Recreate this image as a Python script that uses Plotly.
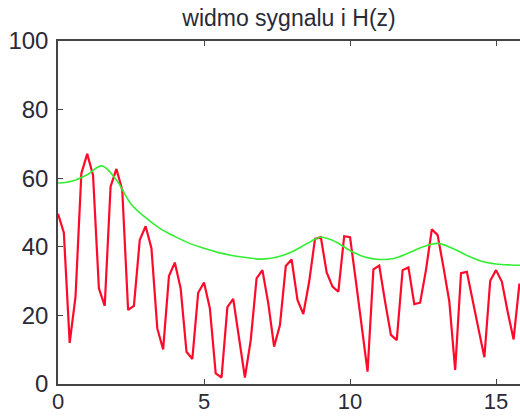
import plotly.graph_objects as go

# red: signal spectrum, sampled every 0.2
red_x = [round(i * 0.2, 1) for i in range(80)]
red_y = [49.6, 44.1, 12.0, 25.5, 61.4, 67.1, 60.9, 27.9, 22.8, 57.5,
         62.7, 56.6, 21.6, 22.8, 42.0, 46.0, 39.6, 16.2, 10.1, 31.5,
         35.4, 27.9, 9.4, 7.3, 26.6, 29.6, 22.1, 3.1, 1.9, 22.4,
         24.8, 13.8, 1.9, 12.8, 30.8, 33.2, 23.5, 10.9, 17.2, 34.4,
         36.3, 24.5, 20.4, 29.8, 42.3, 42.8, 32.5, 28.4, 26.9, 43.1,
         42.8, 30.0, 17.0, 3.6, 33.4, 34.5, 24.0, 14.3, 12.8, 33.2,
         34.0, 23.3, 23.7, 33.2, 45.1, 43.4, 34.0, 24.0, 4.1, 32.3,
         32.7, 24.0, 16.0, 7.8, 30.1, 33.2, 29.8, 21.0, 13.0, 29.3]

# green: filter response H(z)
green_x = [0, 0.5, 1.0, 1.5, 2.0, 2.5, 3.0, 3.5, 4.0, 4.5, 5.0, 5.5, 6.0, 6.5,
           7.0, 7.5, 8.0, 8.5, 9.0, 9.5, 10.0, 10.5, 11.0, 11.5, 12.0, 12.5,
           13.0, 13.5, 14.0, 14.5, 15.0, 15.5, 16.0]
green_y = [58.6, 59.2, 61.0, 63.6, 59.5, 52.5, 48.5, 45.3, 43.0, 41.0, 39.6,
           38.3, 37.4, 36.8, 36.4, 37.0, 38.5, 40.8, 42.8, 41.5, 38.9, 37.0,
           36.3, 36.6, 38.2, 40.0, 41.0, 39.6, 37.5, 35.8, 35.0, 34.7, 34.6]

x_ticks = [0, 5, 10, 15]
y_ticks = [0, 20, 40, 60, 80, 100]

fig = go.Figure()
fig.add_trace(go.Scatter(x=red_x, y=red_y, mode="lines",
                         line=dict(color="#ff0a2a", width=2.2), showlegend=False))
fig.add_trace(go.Scatter(x=green_x, y=green_y, mode="lines", line_shape="spline",
                         line=dict(color="#33ee33", width=1.6), showlegend=False))

font = dict(family="Liberation Sans, Arial, sans-serif", size=24, color="#2a2a38")
xfont = dict(family="Liberation Sans, Arial, sans-serif", size=22, color="#2a2a38")
fig.update_layout(
    width=520, height=416,
    margin=dict(l=58, r=0, t=41, b=32),
    paper_bgcolor="white", plot_bgcolor="white",
    font=font,
    title=dict(text="widmo sygnalu i H(z)", x=0.5, xanchor="center", xref="paper",
               y=0.957, yref="container", yanchor="middle",
               font=dict(family="Liberation Sans, Arial, sans-serif", size=23, color="#2a2a38")),
    xaxis=dict(range=[0, 15.82], tickvals=x_ticks, ticks="inside", ticklen=5,
               tickcolor="#444", showline=True, linecolor="#444", linewidth=1.5,
               mirror="ticks", showgrid=False, zeroline=False, tickfont=xfont,
               ticklabelstandoff=-3, automargin=False),
    yaxis=dict(range=[0, 100], tickvals=y_ticks, ticks="inside", ticklen=5,
               tickcolor="#444", showline=True, linecolor="#444", linewidth=1.5,
               mirror=False, showgrid=False, zeroline=False, tickfont=font,
               ticklabelstandoff=3, automargin=False),
)
fig.write_html("out.html", config={"displayModeBar": False},
               post_script="document.body.style.margin='0';document.body.style.overflow='hidden';")
